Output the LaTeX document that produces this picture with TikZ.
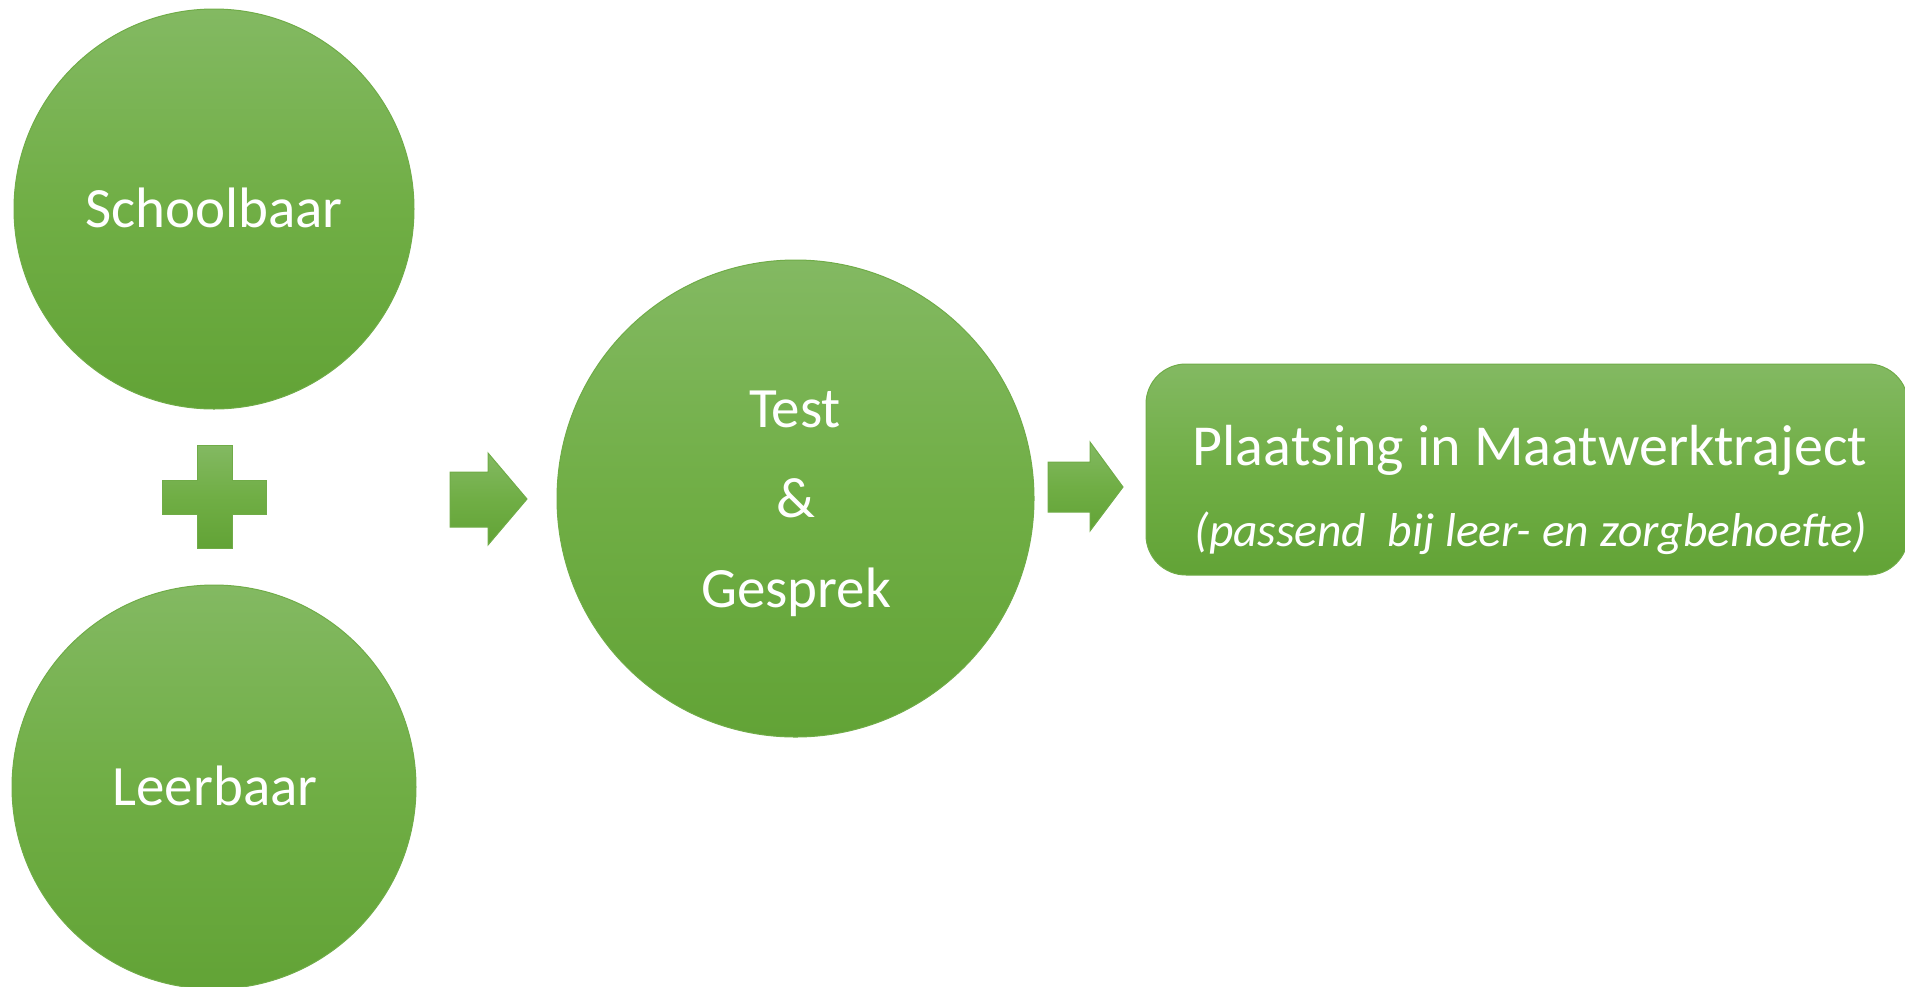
\documentclass[tikz,border=0pt]{standalone}
\usepackage{fontspec}
\setmainfont{Carlito}
\definecolor{gtop}{RGB}{131,185,98}
\definecolor{gmid}{RGB}{112,174,69}
\definecolor{gbot}{RGB}{98,163,54}
\definecolor{gline}{RGB}{112,172,72}
\begin{document}
\begin{tikzpicture}[x=1pt,y=-1pt,
  gfill/.style={top color=gtop, bottom color=gbot, middle color=gmid, draw=gline, line width=1pt},
  bubble/.style={circle, gfill, inner sep=0pt},
  lbl/.style={text=white, font=\fontsize{57}{68}\selectfont, anchor=base, inner sep=0pt},
  boxlbl/.style={text=white, font=\fontsize{58}{70}\selectfont, anchor=base, inner sep=0pt},
  sublbl/.style={text=white, font=\fontsize{47.5}{56}\selectfont\itshape, anchor=base, inner sep=0pt}]
\useasboundingbox (0,0) rectangle (1905,986);
\clip (0,0) rectangle (1905,986);
% circles
\node[bubble, minimum size=400pt] (c1) at (214,209) {};
\node[bubble, minimum size=404pt] (c2) at (214,787) {};
\node[bubble, minimum size=477pt] (c3) at (795.5,498.5) {};
% result box
\node[rectangle, gfill, rounded corners=40pt, minimum width=762pt, minimum height=211pt, inner sep=0pt] (box) at (1527,469.5) {};
% plus sign
\path[gfill] (197,445) -- (232,445) -- (232,480) -- (266,480) -- (266,514) -- (232,514) -- (232,548) -- (197,548) -- (197,514) -- (162,514) -- (162,480) -- (197,480) -- cycle;
% block arrows
\path[gfill] (450,472) -- (488,472) -- (488,453) -- (527,499) -- (488,545) -- (488,527) -- (450,527) -- cycle;
\path[gfill] (1048,462) -- (1090,462) -- (1090,442) -- (1123,487) -- (1090,531) -- (1090,512) -- (1048,512) -- cycle;
% texts
\node[lbl] (t1) at (214,227) {Schoolbaar};
\node[lbl] (t2) at (215,805) {Leerbaar};
\node[lbl] (t3a) at (795,427) {Test};
\node[lbl] (t3b) at (796,517) {\&};
\node[lbl] (t3c) at (796,607) {Gesprek};
\node[boxlbl] (t4a) at (1530,465) {Plaatsing in Maatwerktraject};
\node[sublbl] (t4b) at (1531,546) {(passend~ bij leer- en zorgbehoefte)};
\end{tikzpicture}
\end{document}
